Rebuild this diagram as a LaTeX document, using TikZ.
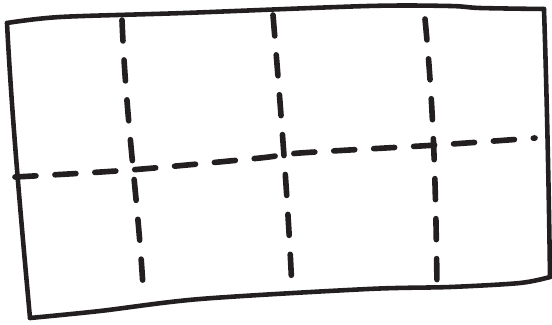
\documentclass[tikz,border=0pt]{standalone}
\usepackage{tikz}
\usetikzlibrary{calc}
\definecolor{inkblack}{RGB}{35, 31, 32}

\begin{document}
\begin{tikzpicture}[x=0.02cm, y=-0.02cm, line cap=round, line join=round,
    frameline/.style={inkblack, line width=2.6pt},
    foldline/.style={inkblack, line width=3.2pt, dash pattern=on 0.42cm off 0.38cm}]
    \useasboundingbox (0,0) rectangle (552,325);
    % corners of the sheet
    \coordinate (tl) at (7,23);
    \coordinate (tr) at (544,9);
    \coordinate (br) at (550,277);
    \coordinate (bl) at (30,318);
    \draw[frameline] plot[smooth, tension=0.5] coordinates {(tl) (60,17) (184,13) (368,6) (450,6) (480,8) (tr)};
    \draw[frameline] (tr) .. controls (547,100) and (549,200) .. (br);
    \draw[frameline] plot[smooth, tension=0.5] coordinates {(br) (520,283) (450,287) (368,289) (200,299) (100,311) (bl)};
    \draw[frameline] (bl) .. controls (22,230) and (12,120) .. (tl);
    % fold lines
    \draw[foldline] plot[smooth, tension=0.5] coordinates {(15,177) (130,170) (260,158) (300,153) (437,145) (535,138)};
    \draw[foldline] (122,20) .. controls (126,120) and (138,200) .. (143,287);
    \draw[foldline] (273,15) .. controls (280,100) and (288,200) .. (292,290);
    \draw[foldline] (425,19) .. controls (434,110) and (436,200) .. (437,288);
\end{tikzpicture}
\end{document}
